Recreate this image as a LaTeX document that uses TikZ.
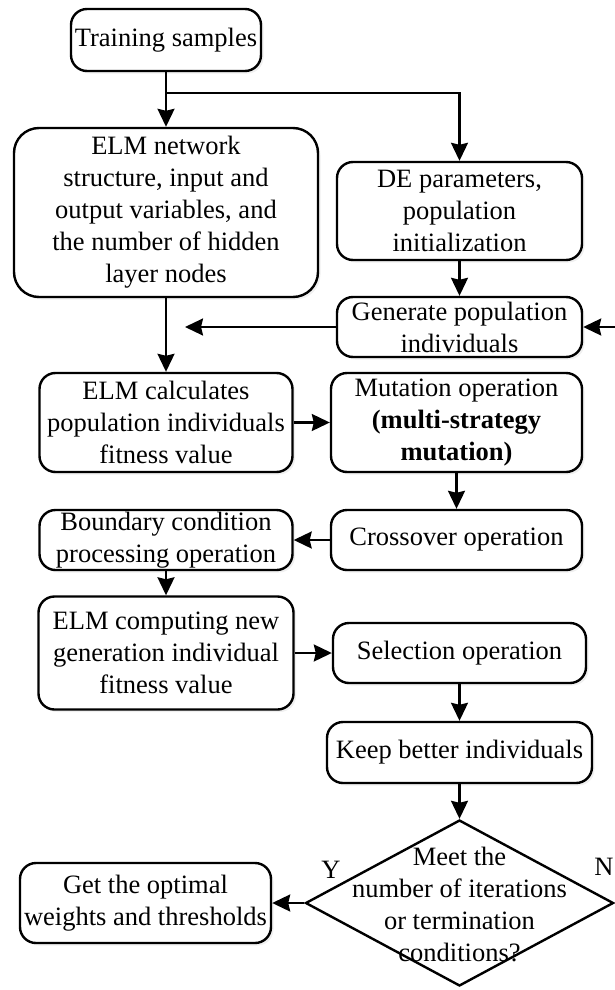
\documentclass[tikz,border=0pt]{standalone}
\usepackage{fontspec}
\setmainfont{Liberation Serif}
\usetikzlibrary{arrows.meta,shapes.geometric,shadows}
\begin{document}
\begin{tikzpicture}[x=1pt,y=-1pt,
  font=\fontsize{26.5}{32}\selectfont,
  box/.style={draw, line width=2.4pt, rounded corners=16pt, align=center,
    inner sep=0pt, fill=white,
    drop shadow={opacity=0.12, shadow xshift=2.5pt, shadow yshift=-2.5pt}},
  conn/.style={line width=2.2pt, -{Stealth[length=18pt,width=17pt,inset=2pt]}},
  plain/.style={line width=2.2pt}]
\useasboundingbox (0,0) rectangle (615,990);

\node[box, minimum width=190pt, minimum height=62pt] (train) at (166,40) {Training samples};
\node[box, rounded corners=25pt, minimum width=304pt, minimum height=169pt] (elmnet) at (166,212.5)
  {ELM network\\structure, input and\\output variables, and\\the number of hidden\\layer nodes};
\node[box, minimum width=245pt, minimum height=98pt] (de) at (459.5,211)
  {DE parameters,\\population\\initialization};
\node[box, minimum width=245pt, minimum height=60pt] (gen) at (459.5,327)
  {Generate population\\individuals};
\node[box, minimum width=253pt, minimum height=99pt] (calc) at (166,422.5)
  {ELM calculates\\population individuals\\fitness value};
\node[box, minimum width=251pt, minimum height=99pt] (mut) at (456.5,422.5)
  {Mutation operation\\\textbf{(multi-strategy}\\\textbf{mutation)}};
\node[box, minimum width=251pt, minimum height=60pt] (cross) at (456.5,540)
  {Crossover operation};
\node[box, minimum width=253pt, minimum height=60pt] (bound) at (166,540)
  {Boundary condition\\processing operation};
\node[box, minimum width=255pt, minimum height=113pt] (comp) at (166,653)
  {ELM computing new\\generation individual\\fitness value};
\node[box, minimum width=253pt, minimum height=60pt] (sel) at (459.5,653)
  {Selection operation};
\node[box, minimum width=265pt, minimum height=61pt] (keep) at (459.5,752.5)
  {Keep better individuals};
\node[diamond, draw, line width=2.4pt, fill=white, inner sep=0pt,
  minimum width=308pt, minimum height=166pt] (dia) at (459.5,903) {};
\node[align=center, inner sep=0pt] (diatext) at (459.5,904)
  {Meet the\\number of iterations\\or termination\\conditions?};
\node[box, minimum width=251pt, minimum height=80pt] (opt) at (145.5,903)
  {Get the optimal\\weights and thresholds};

\node (ylab) at (331,870) {Y};
\node (nlab) at (604,867) {N};

\coordinate (j) at (166,93);
\coordinate (gl) at (185,327);
\coordinate (gr) at (615,327);

\draw[conn] (train.south) -- (elmnet.north);
\draw[conn] (j) -| (de.north);
\draw[conn] (de.south) -- (gen.north);
\draw[conn] (gen.west) -- (gl);
\draw[conn] (gr) -- (gen.east);
\draw[conn] (elmnet.south) -- (calc.north);
\draw[conn] (calc.east) -- (mut.west);
\draw[conn] (mut.south) -- (cross.north);
\draw[conn] (cross.west) -- (bound.east);
\draw[conn] (bound.south) -- (comp.north);
\draw[conn] (comp.east) -- (sel.west);
\draw[conn] (sel.south) -- (keep.north);
\draw[conn] (keep.south) -- (dia.north);
\draw[conn] (dia.west) -- (opt.east);
\end{tikzpicture}
\end{document}
